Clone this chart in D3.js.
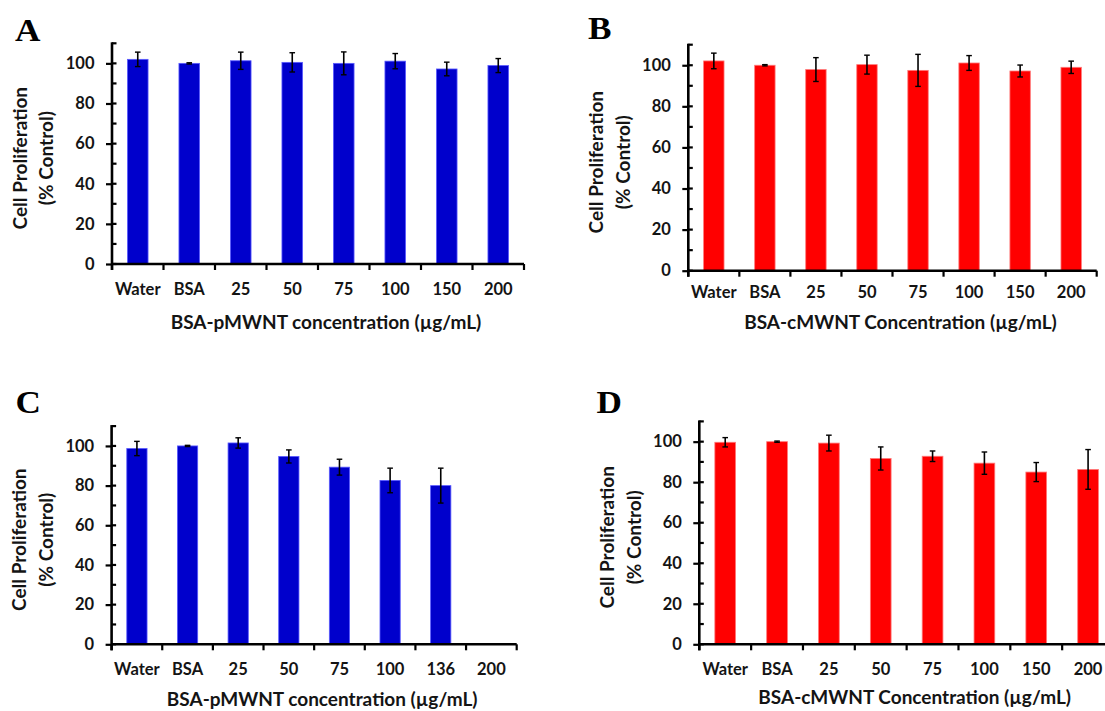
<!DOCTYPE html>
<html>
<head>
<meta charset="utf-8">
<script src="https://cdn.jsdelivr.net/npm/d3@7"></script>
<style>
  html, body { margin: 0; padding: 0; background: #fff; }
  svg { display: block; }
  .sans { font-family: Lato, "Open Sans", "Noto Sans", sans-serif; font-weight: 700; fill: #141414; }
  .letter { font-family: "Liberation Serif", "Times New Roman", serif; font-weight: 700; fill: #000; }
</style>
</head>
<body>
<svg id="chart" width="1105" height="711"></svg>
<script>
// ---------------- data ----------------
const categoriesAB = ["Water", "BSA", "25", "50", "75", "100", "150", "200"];
const categoriesC  = ["Water", "BSA", "25", "50", "75", "100", "136", "200"];
const categoriesD  = ["Water", "BSA", "25", "50", "75", "100", "150", "200"];

const valuesA = [102.0, 100.0, 101.3, 100.5, 100.0, 101.1, 97.2, 98.9];
const errorsA = [3.6, 0.3, 4.3, 4.8, 5.7, 3.8, 3.4, 3.5];

const valuesB = [102.1, 100.0, 97.9, 100.3, 97.5, 101.1, 97.2, 99.0];
const errorsB = [3.8, 0.3, 5.8, 4.6, 7.8, 3.6, 2.9, 3.0];

const valuesC = [98.7, 100.0, 101.5, 94.7, 89.3, 82.6, 80.0, null];
const errorsC = [3.6, 0.3, 2.6, 3.3, 4.0, 6.2, 8.8, null];

const valuesD = [99.7, 100.0, 99.3, 91.7, 92.8, 89.4, 85.0, 86.3];
const errorsD = [2.3, 0.3, 3.9, 5.7, 2.6, 5.5, 4.7, 9.8];

const yMajorTicks = [0, 20, 40, 60, 80, 100];
const yMinorTicks = [10, 30, 50, 70, 90, 110];
const yMax = 110;

const yTitleLines = ["Cell Proliferation", "(% Control)"];
const xTitleP = "BSA-pMWNT concentration (\u00b5g/mL)";
const xTitleC = "BSA-cMWNT Concentration (\u00b5g/mL)";

const blue = "#0000cc";
const red = "#ff0000";

// ---------------- layout ----------------
const panels = [
  { letter: "A", cats: categoriesAB, values: valuesA, errors: errorsA, color: blue, edge: "#5a5aff",
    x0: 112, x1: 524, y0: 264, yTop: 43.3, lx: 15, ly: 40.7, catY: 289.5, titleY: 322, title: xTitleP },
  { letter: "B", cats: categoriesAB, values: valuesB, errors: errorsB, color: red, edge: "#ff7a7a",
    x0: 688.3, x1: 1096.7, y0: 270.7, yTop: 44.7, lx: 588, ly: 38.5, catY: 292, titleY: 322, title: xTitleC },
  { letter: "C", cats: categoriesC, values: valuesC, errors: errorsC, color: blue, edge: "#5a5aff",
    x0: 111.6, x1: 516.7, y0: 644.3, yTop: 426.1, lx: 15.5, ly: 413, catY: 669.3, titleY: 699, title: xTitleP },
  { letter: "D", cats: categoriesD, values: valuesD, errors: errorsD, color: red, edge: "#ff7a7a",
    x0: 699.3, x1: 1114, y0: 644.3, yTop: 421.4, lx: 596.5, ly: 413, catY: 669.3, titleY: 697, title: xTitleC }
];

const svg = d3.select("#chart");

panels.forEach(p => {
  const g = svg.append("g");

  const x = d3.scaleBand().domain(p.cats).range([p.x0, p.x1])
    .paddingInner(0.6).paddingOuter(0.3);
  const y = d3.scaleLinear().domain([0, yMax]).range([p.y0, p.yTop]);

  // panel letter
  g.append("text").attr("class", "letter")
    .attr("transform", `translate(${p.lx},${p.ly}) scale(1.1,1)`)
    .attr("font-size", 32)
    .text(p.letter);

  const rows = p.cats.map((c, i) => ({ c, v: p.values[i], e: p.errors[i] }))
    .filter(d => d.v != null);

  // bars
  g.selectAll("rect.bar").data(rows).join("rect")
    .attr("class", "bar")
    .attr("x", d => x(d.c))
    .attr("width", x.bandwidth())
    .attr("y", d => y(d.v))
    .attr("height", d => y(0) - y(d.v))
    .attr("fill", p.color)
    .attr("stroke", p.edge)
    .attr("stroke-width", 0.8);

  // error bars
  const eb = g.selectAll("g.err").data(rows).join("g").attr("class", "err");
  const cx = d => x(d.c) + x.bandwidth() / 2;
  eb.append("line")
    .attr("x1", cx).attr("x2", cx)
    .attr("y1", d => y(d.v + d.e)).attr("y2", d => y(d.v - d.e))
    .attr("stroke", "#000").attr("stroke-width", 1.6);
  eb.append("line")
    .attr("x1", d => cx(d) - 2.8).attr("x2", d => cx(d) + 2.8)
    .attr("y1", d => y(d.v + d.e)).attr("y2", d => y(d.v + d.e))
    .attr("stroke", "#000").attr("stroke-width", 1.4);
  eb.append("line")
    .attr("x1", d => cx(d) - 2.8).attr("x2", d => cx(d) + 2.8)
    .attr("y1", d => y(d.v - d.e)).attr("y2", d => y(d.v - d.e))
    .attr("stroke", "#000").attr("stroke-width", 1.4);

  // y axis (labels + outside part of major ticks)
  const yAxis = g.append("g").attr("transform", `translate(${p.x0},0)`)
    .call(d3.axisLeft(y).tickValues(yMajorTicks).tickSizeInner(6).tickSizeOuter(0).tickPadding(11.5));
  yAxis.select(".domain").remove();
  yAxis.selectAll(".tick line").attr("stroke", "#000").attr("stroke-width", 2.2);
  yAxis.selectAll(".tick text").attr("class", "sans").attr("font-size", 16.5)
    .attr("font-family", null).attr("fill", "#141414");

  // inside part of ticks (all ticks)
  g.selectAll("line.itick").data(yMajorTicks.concat(yMinorTicks)).join("line")
    .attr("class", "itick")
    .attr("x1", p.x0).attr("x2", p.x0 + 4.5)
    .attr("y1", d => y(d)).attr("y2", d => y(d))
    .attr("stroke", "#000").attr("stroke-width", 2.2);

  // y axis line
  g.append("line")
    .attr("x1", p.x0).attr("x2", p.x0)
    .attr("y1", y(yMax) - 1).attr("y2", y(0) + 6)
    .attr("stroke", "#000").attr("stroke-width", 2.6);

  // x axis line
  g.append("line")
    .attr("x1", p.x0).attr("x2", x.range()[1])
    .attr("y1", y(0)).attr("y2", y(0))
    .attr("stroke", "#000").attr("stroke-width", 2.6);

  // category boundary ticks
  const bounds = d3.range(p.cats.length + 1).map(i => x.range()[0] + i * x.step());
  g.selectAll("line.xtick").data(bounds).join("line")
    .attr("class", "xtick")
    .attr("x1", d => d).attr("x2", d => d)
    .attr("y1", y(0)).attr("y2", y(0) + 6)
    .attr("stroke", "#000").attr("stroke-width", 2.2);

  // category labels
  g.selectAll("text.cat").data(p.cats).join("text")
    .attr("class", "sans cat")
    .attr("font-size", 16.5)
    .attr("text-anchor", "middle")
    .attr("x", d => x(d) + x.bandwidth() / 2)
    .attr("y", p.catY)
    .attr("dy", "0.36em")
    .text(d => d);

  // x axis title
  g.append("text").attr("class", "sans")
    .attr("font-size", 19)
    .attr("text-anchor", "middle")
    .attr("x", (p.x0 + x.range()[1]) / 2 + 8)
    .attr("y", p.titleY)
    .attr("dy", "0.36em")
    .text(p.title);

  // y axis title (two lines)
  const yc = (y(0) + y(yMax)) / 2 + 4.5;
  const offs = [-92, -65.6];
  yTitleLines.forEach((t, i) => {
    g.append("text").attr("class", "sans")
      .attr("font-size", 19)
      .attr("text-anchor", "middle")
      .attr("transform", `translate(${p.x0 + offs[i]},${yc}) rotate(-90)`)
      .attr("dy", "0.36em")
      .text(t);
  });
});
</script>
</body>
</html>
